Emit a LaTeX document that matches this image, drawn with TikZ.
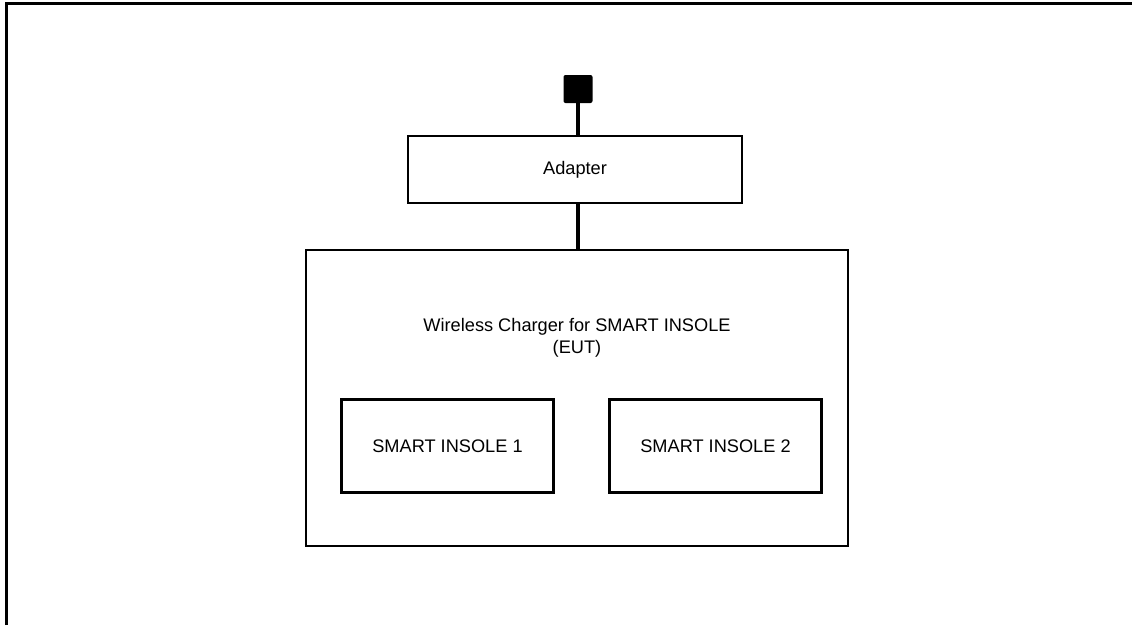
\documentclass[tikz,border=0pt]{standalone}
\usepackage{fontspec}
\setmainfont{Liberation Sans}
\begin{document}
\begin{tikzpicture}[x=1pt,y=-1pt,
  box/.style={draw, line width=2.3pt, inner sep=0pt},
  wire/.style={line width=4pt},
  lbl/.style={font=\fontsize{18.2}{22}\selectfont}]
\useasboundingbox (0,0) rectangle (1132,625);
% frame
\draw[line width=3pt] (6.5,625) -- (6.5,3.5) -- (1132,3.5);
% plug
\node[fill=black, rounded corners=2pt, minimum width=29pt, minimum height=28pt, inner sep=0pt] (plug) at (578,89) {};
% adapter
\node[box, lbl, minimum width=334pt, minimum height=67pt] (adapter) at (575,169.5) {Adapter};
% charger
\node[box, minimum width=542pt, minimum height=296pt] (charger) at (577,398) {};
\node[lbl, align=center] (title) at (577,338) {Wireless Charger for SMART INSOLE\\(EUT)};
% insoles
\node[box, lbl, minimum width=212pt, minimum height=93pt] (ins1) at (447.5,446) {SMART INSOLE 1};
\node[box, lbl, minimum width=212pt, minimum height=93pt] (ins2) at (715.5,446) {SMART INSOLE 2};
% cables
\draw[wire] (plug.south) -- (plug.south |- adapter.north);
\draw[wire] (plug.south |- adapter.south) -- (plug.south |- charger.north);
\end{tikzpicture}
\end{document}
